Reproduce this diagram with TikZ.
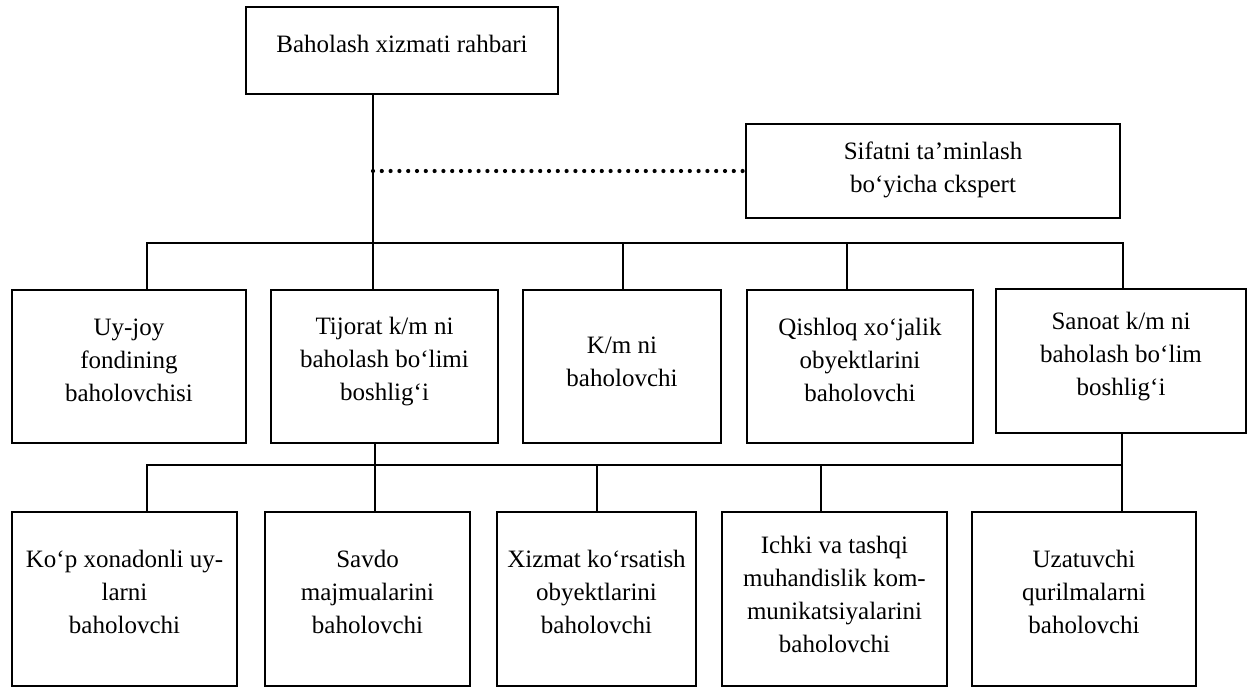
\documentclass[tikz,border=0pt]{standalone}
\usepackage{fontspec}
\setmainfont{Liberation Serif}
\begin{document}
\begin{tikzpicture}[x=1pt,y=-1pt,
  box/.style={draw, line width=2.2pt, inner sep=0pt},
  lbl/.style={align=center, inner sep=0pt, font=\fontsize{25pt}{33pt}\selectfont},
  conn/.style={line width=2pt},
  dotline/.style={line width=4.2pt, line cap=round, dash pattern=on 0pt off 8.8pt}]
\useasboundingbox (0,0) rectangle (1248,689);

% head and quality expert
\node[box, minimum width=312, minimum height=87] (top) at (402,50.5) {};
\node[lbl] (topt) at ([yshift=7pt]top.center) {Baholash xizmati rahbari};
\node[box, minimum width=374, minimum height=94] (sif) at (933,171) {};
\node[lbl] (sift) at ([yshift=1pt]sif.center) {Sifatni ta’minlash\\bo‘yicha ckspert};

% second level
\node[box, minimum width=234, minimum height=153] (r2a) at (129,366.5) {};
\node[lbl] (r2at) at ([yshift=6pt]r2a.center) {Uy-joy\\fondining\\baholovchisi};
\node[box, minimum width=227, minimum height=153] (r2b) at (384.5,366.5) {};
\node[lbl] (r2bt) at ([yshift=5pt]r2b.center) {Tijorat k/m ni\\baholash bo‘limi\\boshlig‘i};
\node[box, minimum width=198, minimum height=153] (r2c) at (622,366.5) {};
\node[lbl] (r2ct) at ([yshift=5pt]r2c.center) {K/m ni\\baholovchi};
\node[box, minimum width=226, minimum height=153] (r2d) at (860,366.5) {};
\node[lbl] (r2dt) at ([yshift=7pt]r2d.center) {Qishloq xo‘jalik\\obyektlarini\\baholovchi};
\node[box, minimum width=250, minimum height=144] (r2e) at (1121,361) {};
\node[lbl] (r2et) at ([yshift=4pt]r2e.center) {Sanoat k/m ni\\baholash bo‘lim\\boshlig‘i};

% third level
\node[box, minimum width=225, minimum height=174] (r3a) at (124.5,599) {};
\node[lbl] (r3at) at ([yshift=7pt]r3a.center) {Ko‘p xonadonli uy-\\larni\\baholovchi};
\node[box, minimum width=205, minimum height=174] (r3b) at (367.5,599) {};
\node[lbl] (r3bt) at ([yshift=7pt]r3b.center) {Savdo\\majmualarini\\baholovchi};
\node[box, minimum width=199, minimum height=174] (r3c) at (596.5,599) {};
\node[lbl] (r3ct) at ([yshift=7pt]r3c.center) {Xizmat ko‘rsatish\\obyektlarini\\baholovchi};
\node[box, minimum width=225, minimum height=174] (r3d) at (834.5,599) {};
\node[lbl] (r3dt) at ([yshift=5pt]r3d.center) {Ichki va tashqi\\muhandislik kom-\\munikatsiyalarini\\baholovchi};
\node[box, minimum width=224, minimum height=174] (r3e) at (1084,599) {};
\node[lbl] (r3et) at ([yshift=7pt]r3e.center) {Uzatuvchi\\qurilmalarni\\baholovchi};

% bus junctions
\coordinate (p1) at (147,243);
\coordinate (p2) at (373,243);
\coordinate (p3) at (623,243);
\coordinate (p4) at (847,243);
\coordinate (p5) at (1123,243);
\coordinate (q1) at (147,465);
\coordinate (q2) at (375,465);
\coordinate (q3) at (597,465);
\coordinate (q4) at (821,465);
\coordinate (q5) at (1122,465);

% head to second level
\draw[conn] (top.south -| p2) -- (p2 |- r2b.north);
\draw[dotline] (sif.west -| p2) -- (sif.west);
\draw[conn] (p1 |- r2a.north) -- (p1) -- (p5) -- (p5 |- r2e.north);
\draw[conn] (p3) -- (p3 |- r2c.north);
\draw[conn] (p4) -- (p4 |- r2d.north);

% second level to third level
\draw[conn] (r2b.south -| q2) -- (q2 |- r3b.north);
\draw[conn] (r2e.south -| q5) -- (q5);
\draw[conn] (q1 |- r3a.north) -- (q1) -- (q5) -- (q5 |- r3e.north);
\draw[conn] (q3) -- (q3 |- r3c.north);
\draw[conn] (q4) -- (q4 |- r3d.north);
\end{tikzpicture}
\end{document}
